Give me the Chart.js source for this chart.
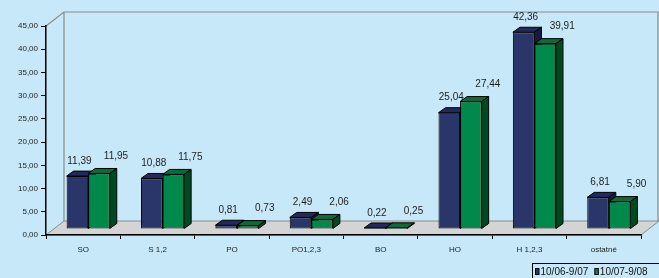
<!DOCTYPE html>
<html>
<head>
<meta charset="utf-8">
<script src="https://cdn.jsdelivr.net/npm/chart.js@4/dist/chart.umd.min.js"></script>
<style>
  html, body { margin: 0; padding: 0; background: #c6e8f8; }
  #wrap { width: 659px; height: 278px; }
</style>
</head>
<body>
<div id="wrap"><canvas id="canvas" width="659" height="278"></canvas></div>
<script>
  // values
  const categories = ['SO', 'S 1,2', 'PO', 'PO1,2,3', 'BO', 'HO', 'H 1,2,3', 'ostatné'];
  const period1 = [11.39, 10.88, 0.81, 2.49, 0.22, 25.04, 42.36, 6.81];
  const period2 = [11.95, 11.75, 0.73, 2.06, 0.25, 27.44, 39.91, 5.90];
  const seriesNames = ['10/06-9/07', '10/07-9/08'];
  const yTicks = { min: 0, max: 45, step: 5 };

  const bg = '#c6e8f8';
  const fontFam = '"Liberation Sans", Arial, sans-serif';
  const faces = [
    { front: '#2a3569', top: '#212a5a', side: '#151c42' },
    { front: '#00894a', top: '#0b6b3a', side: '#004a22' }
  ];
  const wallDepth = { dx: 18, dy: 14 };
  const barDepth = { dx: 7, dy: 5 };
  const shift = { x: 5, y: -6 };
  const labelOffset = [{ x: 2, y: -15 }, { x: 17, y: -17 }];

  function fmt(v) {
    return v.toFixed(2).replace('.', ',');
  }

  function poly(ctx, pts, fill, stroke) {
    ctx.beginPath();
    ctx.moveTo(pts[0][0], pts[0][1]);
    for (let i = 1; i < pts.length; i++) ctx.lineTo(pts[i][0], pts[i][1]);
    ctx.closePath();
    if (fill) { ctx.fillStyle = fill; ctx.fill(); }
    if (stroke) { ctx.strokeStyle = stroke; ctx.lineWidth = 1; ctx.stroke(); }
  }

  const box3d = {
    id: 'box3d',
    beforeDraw(chart) {
      const ctx = chart.ctx;
      const a = chart.chartArea;
      const dx = wallDepth.dx, dy = wallDepth.dy;
      ctx.save();
      ctx.fillStyle = bg;
      ctx.fillRect(0, 0, chart.width, chart.height);
      // side wall + back wall outline
      ctx.strokeStyle = '#8c8c8c';
      ctx.lineWidth = 1.2;
      ctx.beginPath();
      ctx.moveTo(a.left, a.top);
      ctx.lineTo(a.left + dx, a.top - dy);
      ctx.lineTo(a.right + dx - 1, a.top - dy);
      ctx.lineTo(a.right + dx - 1, a.bottom - dy);
      ctx.moveTo(a.left + dx, a.top - dy);
      ctx.lineTo(a.left + dx, a.bottom - dy);
      ctx.stroke();
      // floor
      poly(ctx, [[a.left, a.bottom], [a.left + dx, a.bottom - dy], [a.right + dx, a.bottom - dy], [a.right, a.bottom]], '#d4d4d4', '#8c8c8c');
      ctx.restore();
    },
    beforeDatasetsDraw(chart) {
      const ctx = chart.ctx;
      ctx.save();
      ctx.translate(shift.x, shift.y);
      const dx = barDepth.dx, dy = barDepth.dy;
      chart.data.datasets.forEach((ds, di) => {
        const meta = chart.getDatasetMeta(di);
        meta.data.forEach(bar => {
          const p = bar.getProps(['x', 'y', 'base', 'width']);
          const l = p.x - p.width / 2, r = p.x + p.width / 2;
          poly(ctx, [[l, p.y], [l + dx, p.y - dy], [r + dx, p.y - dy], [r, p.y]], faces[di].top, '#000');
          poly(ctx, [[r, p.y], [r + dx, p.y - dy], [r + dx, p.base - dy], [r, p.base]], faces[di].side, '#000');
        });
      });
    },
    afterDatasetsDraw(chart) {
      const ctx = chart.ctx;
      ctx.restore();
      ctx.save();
      ctx.font = '10px ' + fontFam;
      ctx.fillStyle = '#1e1e1e';
      ctx.textAlign = 'center';
      ctx.textBaseline = 'middle';
      chart.data.datasets.forEach((ds, di) => {
        const meta = chart.getDatasetMeta(di);
        meta.data.forEach((bar, i) => {
          const p = bar.getProps(['x', 'y']);
          ctx.fillText(fmt(ds.data[i]), p.x + shift.x + labelOffset[di].x, p.y + shift.y + labelOffset[di].y);
        });
      });
      ctx.restore();
    },
    afterDraw(chart) {
      // legend box, bottom right
      const ctx = chart.ctx;
      ctx.save();
      ctx.fillStyle = bg;
      ctx.strokeStyle = '#000';
      ctx.lineWidth = 1;
      ctx.fillRect(532.5, 263.5, 140, 20);
      ctx.strokeRect(532.5, 263.5, 140, 20);
      ctx.font = '10px ' + fontFam;
      ctx.textBaseline = 'middle';
      ctx.fillStyle = '#111';
      let x = 535;
      chart.data.datasets.forEach((ds, di) => {
        ctx.fillStyle = faces[di].front;
        ctx.fillRect(x + 0.5, 268.5, 3.5, 6);
        ctx.strokeStyle = '#000';
        ctx.strokeRect(x + 0.5, 268.5, 3.5, 6);
        ctx.fillStyle = '#111';
        ctx.fillText(ds.label, x + 5.5, 272);
        x += 5.5 + ctx.measureText(ds.label).width + 6;
      });
      ctx.restore();
    }
  };

  window.addEventListener('load', setup);

  function setup() {
    const ctx = document.getElementById('canvas').getContext('2d');
    new Chart(ctx, {
      type: 'bar',
      data: {
        labels: categories,
        datasets: [
          {
            label: seriesNames[0],
            data: period1,
            backgroundColor: faces[0].front,
            borderColor: '#000',
            borderWidth: 1,
            borderSkipped: false,
            clip: false
          },
          {
            label: seriesNames[1],
            data: period2,
            backgroundColor: faces[1].front,
            borderColor: '#000',
            borderWidth: 1,
            borderSkipped: false,
            clip: false
          }
        ]
      },
      options: {
        responsive: false,
        devicePixelRatio: 1,
        animation: false,
        events: [],
        categoryPercentage: 0.58,
        barPercentage: 1.0,
        layout: { padding: { top: 26, right: 18, left: 0, bottom: 0 } },
        plugins: { legend: { display: false }, tooltip: { enabled: false } },
        scales: {
          x: {
            afterFit(scale) { scale.height = 43; },
            grid: { offset: true, drawOnChartArea: false, drawTicks: true, tickLength: 4, color: '#000' },
            border: { display: true, color: '#000', width: 1.5 },
            ticks: { color: '#1e1e1e', padding: 6, font: { size: 8, family: fontFam }, maxRotation: 0 }
          },
          y: {
            min: yTicks.min,
            max: yTicks.max,
            afterFit(scale) { scale.width = 46; },
            grid: { drawOnChartArea: false, drawTicks: true, tickLength: 5, color: '#000' },
            border: { display: true, color: '#000', width: 1.5 },
            ticks: {
              stepSize: yTicks.step,
              color: '#1e1e1e',
              padding: 3,
              font: { size: 8, family: fontFam },
              callback: v => fmt(v)
            }
          }
        }
      },
      plugins: [box3d]
    });
  }
</script>
</body>
</html>
